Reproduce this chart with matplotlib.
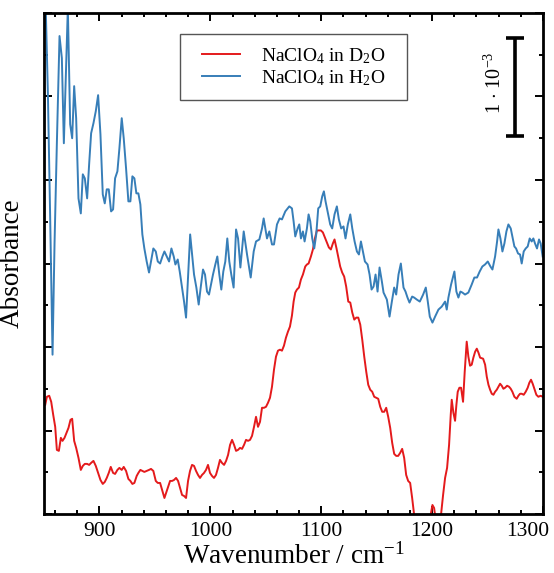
import numpy as np
import matplotlib
matplotlib.use("Agg")
import matplotlib.pyplot as plt
from matplotlib.patches import Rectangle
from matplotlib.transforms import ScaledTranslation

plt.rcParams['font.family'] = ['Liberation Serif', 'DejaVu Serif']
plt.rcParams['mathtext.fontset'] = 'custom'
plt.rcParams['mathtext.rm'] = 'Liberation Serif'
plt.rcParams['mathtext.it'] = 'Liberation Serif:italic'

# NaClO4 in H2O, absorbance in units of 1e-3
wn_h2o = [851.0, 853.5, 855.5, 857.7, 859.5, 861.6, 864.0, 866.1, 867.9, 869.7,
          871.5, 873.6, 875.4, 877.2, 879.0, 881.1, 883.2, 885.0, 886.8, 888.9,
          890.7, 892.5, 894.6, 896.7, 898.8, 900.9, 903.0, 904.8, 906.6, 908.4,
          910.5, 912.3, 914.1, 916.2, 918.0, 920.1, 921.9, 924.0, 926.1, 927.9,
          929.7, 931.5, 933.3, 935.1, 936.9, 938.7, 940.5, 942.6, 944.7, 946.5,
          948.6, 950.8, 952.6, 954.7, 956.8, 958.6, 960.7, 962.8, 964.9, 967.0,
          968.5, 970.6, 972.4, 974.5, 976.3, 978.1, 980.0, 981.8, 983.5, 985.3,
          987.4, 989.5, 991.3, 993.4, 995.2, 997.0, 998.8, 1000.6, 1002.4, 1004.5,
          1006.3, 1008.1, 1009.9, 1011.7, 1013.5, 1015.3, 1017.1, 1018.9, 1021.0, 1023.2,
          1025.0, 1027.1, 1030.1, 1033.1, 1036.4, 1039.1, 1041.2, 1044.2, 1046.6, 1048.1,
          1051.1, 1053.2, 1055.6, 1057.4, 1060.1, 1062.5, 1064.6, 1067.6, 1071.2, 1073.6,
          1075.1, 1076.6, 1078.7, 1080.2, 1081.7, 1083.5, 1085.0, 1087.1, 1088.6, 1090.1,
          1091.9, 1093.7, 1095.5, 1097.3, 1099.1, 1100.9, 1102.4, 1103.9, 1105.7, 1108.1,
          1109.9, 1112.0, 1114.1, 1115.9, 1118.0, 1120.1, 1121.9, 1124.0, 1126.2, 1128.0,
          1130.1, 1132.2, 1134.0, 1135.8, 1137.6, 1139.4, 1141.8, 1143.6, 1145.4, 1147.2,
          1149.0, 1150.8, 1152.6, 1154.7, 1156.2, 1159.2, 1161.6, 1163.7, 1165.8, 1167.6,
          1169.7, 1171.8, 1174.2, 1176.0, 1177.8, 1179.6, 1182.0, 1183.8, 1186.2, 1188.9,
          1191.9, 1194.3, 1196.1, 1197.9, 1200.3, 1202.7, 1205.7, 1208.7, 1211.7, 1213.2,
          1214.7, 1217.1, 1220.1, 1221.9, 1223.7, 1225.5, 1227.3, 1229.7, 1232.7, 1235.7,
          1238.1, 1240.5, 1242.9, 1245.3, 1247.7, 1250.2, 1252.6, 1254.4, 1256.8, 1258.6,
          1259.8, 1261.6, 1263.4, 1265.2, 1267.0, 1268.8, 1270.9, 1272.7, 1274.2, 1275.7,
          1277.5, 1279.3, 1280.8, 1282.6, 1284.4, 1286.2, 1288.0, 1289.8, 1291.3, 1292.8,
          1294.6, 1296.4, 1297.9, 1299.7]
abs_h2o = [5.30, 4.20, 3.00, 1.59, 2.70, 3.70, 4.77, 4.55, 3.70, 4.38,
           5.05, 3.89, 3.75, 4.27, 3.95, 3.15, 3.00, 3.39, 3.35, 3.15,
           3.49, 3.80, 3.90, 4.02, 4.18, 3.79, 3.19, 3.10, 3.24, 3.24,
           3.02, 3.04, 3.35, 3.42, 3.65, 3.95, 3.75, 3.45, 3.12, 3.12,
           3.37, 3.35, 3.20, 3.20, 3.09, 2.79, 2.65, 2.52, 2.41, 2.52,
           2.65, 2.62, 2.52, 2.50, 2.57, 2.62, 2.57, 2.52, 2.65, 2.57,
           2.49, 2.54, 2.42, 2.26, 2.12, 1.96, 2.39, 2.79, 2.59, 2.39,
           2.26, 2.09, 2.26, 2.44, 2.39, 2.22, 2.19, 2.29, 2.39, 2.49,
           2.57, 2.39, 2.24, 2.42, 2.52, 2.75, 2.52, 2.39, 2.26, 2.84,
           2.75, 2.46, 2.82, 2.59, 2.36, 2.62, 2.72, 2.74, 2.85, 2.95,
           2.75, 2.82, 2.69, 2.69, 2.89, 2.95, 2.94, 3.02, 3.07, 3.05,
           2.92, 2.77, 2.85, 2.89, 2.75, 2.82, 2.72, 2.85, 2.99, 2.92,
           2.75, 2.65, 2.79, 3.05, 3.07, 3.17, 3.22, 3.12, 3.02, 2.89,
           2.85, 2.99, 3.07, 2.94, 2.85, 2.87, 2.75, 2.89, 2.99, 2.85,
           2.72, 2.62, 2.59, 2.72, 2.62, 2.52, 2.49, 2.39, 2.24, 2.27,
           2.39, 2.22, 2.46, 2.32, 2.21, 2.14, 1.97, 2.12, 2.26, 2.19,
           2.39, 2.50, 2.26, 2.22, 2.16, 2.11, 2.17, 2.16, 2.14, 2.12,
           2.19, 2.26, 2.12, 1.97, 1.91, 1.97, 2.04, 2.07, 2.12, 2.04,
           2.16, 2.29, 2.42, 2.22, 2.16, 2.22, 2.21, 2.19, 2.21, 2.29,
           2.36, 2.36, 2.42, 2.47, 2.49, 2.52, 2.47, 2.44, 2.57, 2.72,
           2.84, 2.75, 2.62, 2.70, 2.82, 2.89, 2.85, 2.75, 2.67, 2.65,
           2.60, 2.59, 2.50, 2.62, 2.65, 2.67, 2.75, 2.72, 2.75, 2.70,
           2.65, 2.74, 2.70, 2.57]

# NaClO4 in D2O, absorbance in units of 1e-3
wn_d2o = [851.1, 852.6, 854.7, 856.5, 858.3, 860.1, 861.6, 863.4, 865.2, 866.7,
          868.5, 870.3, 872.1, 873.9, 875.4, 877.2, 879.0, 881.1, 883.2, 885.0,
          886.8, 888.9, 890.7, 892.5, 894.6, 896.7, 898.8, 900.9, 903.0, 904.8,
          906.6, 908.4, 910.2, 912.3, 914.1, 916.2, 918.0, 920.1, 921.9, 924.0,
          926.1, 927.9, 929.7, 931.5, 933.6, 935.1, 936.9, 938.7, 940.5, 942.6,
          944.7, 946.5, 948.6, 950.8, 952.6, 954.7, 956.8, 958.6, 960.7, 962.0,
          963.7, 965.5, 967.3, 969.1, 970.9, 972.7, 974.5, 976.3, 978.1, 979.9,
          981.7, 983.5, 985.3, 987.1, 988.9, 990.7, 992.5, 994.3, 996.1, 997.9,
          999.7, 1001.5, 1003.3, 1005.1, 1006.9, 1008.7, 1010.5, 1012.4, 1014.2, 1016.0,
          1017.8, 1019.6, 1021.4, 1023.2, 1025.0, 1026.8, 1028.6, 1030.4, 1032.2, 1034.0,
          1035.8, 1037.6, 1039.4, 1041.2, 1043.0, 1044.8, 1046.6, 1048.4, 1050.2, 1052.0,
          1053.8, 1055.6, 1057.4, 1059.2, 1061.0, 1062.8, 1064.6, 1066.4, 1068.2, 1070.0,
          1071.8, 1073.6, 1075.1, 1076.6, 1078.1, 1079.9, 1081.7, 1083.5, 1085.6, 1087.1,
          1088.6, 1090.7, 1092.5, 1094.3, 1096.1, 1097.9, 1099.7, 1101.5, 1103.3, 1105.1,
          1106.9, 1108.7, 1110.5, 1112.0, 1113.8, 1115.6, 1117.1, 1118.9, 1120.7, 1122.5,
          1124.4, 1126.2, 1128.0, 1129.8, 1131.6, 1133.4, 1135.2, 1137.0, 1138.8, 1140.6,
          1142.4, 1144.2, 1146.0, 1147.8, 1149.6, 1151.4, 1153.2, 1155.0, 1156.8, 1158.6,
          1160.4, 1162.2, 1164.0, 1165.8, 1167.6, 1169.4, 1171.2, 1173.0, 1174.8, 1176.6,
          1178.4, 1180.2, 1182.0, 1183.8, 1186.0, 1190.0, 1195.0, 1198.5, 1200.3, 1201.8,
          1203.3, 1205.0, 1208.1, 1209.9, 1211.7, 1213.5, 1215.3, 1216.8, 1217.7, 1219.2,
          1220.7, 1221.9, 1223.1, 1224.6, 1226.1, 1227.9, 1229.4, 1231.2, 1232.7, 1234.2,
          1235.7, 1237.2, 1238.8, 1240.3, 1241.8, 1243.3, 1246.0, 1247.8, 1249.3, 1250.8,
          1252.3, 1253.8, 1255.3, 1256.8, 1258.3, 1259.8, 1261.3, 1262.8, 1264.3, 1265.8,
          1267.6, 1269.4, 1270.9, 1272.4, 1274.2, 1276.3, 1277.8, 1279.3, 1280.8, 1282.6,
          1284.4, 1286.2, 1287.7, 1289.2, 1290.7, 1292.2, 1294.0, 1295.8, 1297.9, 1299.7]
abs_d2o = [1.09, 1.17, 1.18, 1.12, 0.99, 0.87, 0.64, 0.63, 0.76, 0.73,
           0.76, 0.81, 0.86, 0.94, 0.95, 0.73, 0.66, 0.56, 0.44, 0.48,
           0.50, 0.50, 0.49, 0.51, 0.53, 0.48, 0.41, 0.34, 0.30, 0.32,
           0.36, 0.41, 0.47, 0.41, 0.40, 0.44, 0.46, 0.44, 0.47, 0.43,
           0.35, 0.33, 0.30, 0.31, 0.38, 0.41, 0.44, 0.43, 0.42, 0.43,
           0.44, 0.45, 0.43, 0.33, 0.31, 0.31, 0.23, 0.16, 0.23, 0.27,
           0.33, 0.33, 0.34, 0.36, 0.33, 0.26, 0.19, 0.18, 0.16, 0.33,
           0.43, 0.49, 0.48, 0.43, 0.39, 0.36, 0.39, 0.41, 0.44, 0.49,
           0.41, 0.38, 0.36, 0.39, 0.46, 0.54, 0.51, 0.49, 0.53, 0.59,
           0.69, 0.74, 0.69, 0.63, 0.64, 0.66, 0.65, 0.69, 0.74, 0.73,
           0.74, 0.78, 0.87, 0.97, 0.87, 0.92, 1.06, 1.06, 1.07, 1.11,
           1.16, 1.27, 1.44, 1.57, 1.63, 1.64, 1.63, 1.68, 1.76, 1.82,
           1.87, 1.98, 2.12, 2.21, 2.24, 2.26, 2.34, 2.39, 2.47, 2.49,
           2.50, 2.57, 2.64, 2.75, 2.83, 2.83, 2.83, 2.81, 2.76, 2.71,
           2.66, 2.64, 2.70, 2.74, 2.65, 2.55, 2.47, 2.41, 2.37, 2.27,
           2.12, 2.11, 2.01, 1.94, 1.96, 1.96, 1.89, 1.74, 1.57, 1.42,
           1.29, 1.24, 1.22, 1.17, 1.16, 1.15, 1.07, 1.02, 1.02, 1.06,
           0.97, 0.86, 0.71, 0.60, 0.58, 0.58, 0.61, 0.65, 0.56, 0.39,
           0.33, 0.31, 0.16, -0.01, -0.25, -0.45, -0.45, -0.02, 0.09, 0.06,
           -0.06, -0.30, 0.00, 0.19, 0.36, 0.46, 0.69, 0.99, 1.14, 1.01,
           0.93, 1.09, 1.22, 1.26, 1.26, 1.12, 1.42, 1.72, 1.57, 1.48,
           1.49, 1.56, 1.62, 1.65, 1.61, 1.56, 1.55, 1.49, 1.37, 1.29,
           1.24, 1.20, 1.19, 1.22, 1.24, 1.27, 1.30, 1.28, 1.25, 1.26,
           1.28, 1.27, 1.25, 1.22, 1.17, 1.15, 1.18, 1.20, 1.20, 1.19,
           1.22, 1.26, 1.31, 1.34, 1.30, 1.25, 1.19, 1.17, 1.18, 1.17]

x_ticks = [900, 1000, 1100, 1200, 1300]
red = '#e41a1c'
blue = '#377eb8'

fig = plt.figure(figsize=(5.54, 5.73), dpi=100)
ax = fig.add_axes([44 / 554, 1 - 514 / 573, 499 / 554, 501 / 573])

ax.plot(wn_d2o, abs_d2o, color=red, lw=1.4, label=r'NaClO$_4$ in D$_2$O')
ax.plot(wn_h2o, abs_h2o, color=blue, lw=1.4, label=r'NaClO$_4$ in H$_2$O')

ax.set_xlim(850, 1300)
ax.set_ylim(0, 5.0)
ax.set_xticks(x_ticks)
ax.set_xticks(np.arange(860, 1300, 20), minor=True)
ax.set_yticks(np.linspace(0, 5.0, 7))
ax.set_yticks(np.linspace(0, 5.0, 13), minor=True)
ax.set_yticklabels([])

for s in ax.spines.values():
    s.set_linewidth(2.0)
ax.tick_params(which='both', direction='in', top=True, right=True,
               width=1.4, labelsize=15.5, pad=6)
ax.tick_params(which='major', length=5.5)
ax.tick_params(which='minor', length=3)

ax.set_xlabel(r'Wavenumber / cm$^{\mathregular{-1}}$', fontsize=19.5, labelpad=1)
ax.set_ylabel('Absorbance', fontsize=19.5, labelpad=8)

# last tick label pulled inside the figure
lab = ax.get_xticklabels()[-1]
lab.set_transform(lab.get_transform() + ScaledTranslation(-0.15, 0, fig.dpi_scale_trans))

# scale bar 1e-3
ax.errorbar([1275], [4.26], yerr=[0.49], color='black', elinewidth=2.6,
            capsize=6.2, capthick=2.6)
ax.text(1257, 4.30, r'1 $\cdot$ 10$^{\mathregular{-3}}$', rotation=90, fontsize=14.5,
        ha='center', va='center')

# legend with a hand drawn frame
leg = ax.legend(frameon=False, loc='center', fontsize=14,
                bbox_to_anchor=(293.5 / 554, 1 - 67 / 573),
                bbox_transform=fig.transFigure,
                handlelength=1.95, handletextpad=1.1, labelspacing=0.12)
leg.set_zorder(6)
ax.add_patch(Rectangle((180 / 554, 1 - 100 / 573), 227 / 554, 66 / 573,
                       transform=fig.transFigure, facecolor='white',
                       edgecolor='#555555', lw=1.0, zorder=5, clip_on=False))

fig.savefig('out.png', dpi=100)
